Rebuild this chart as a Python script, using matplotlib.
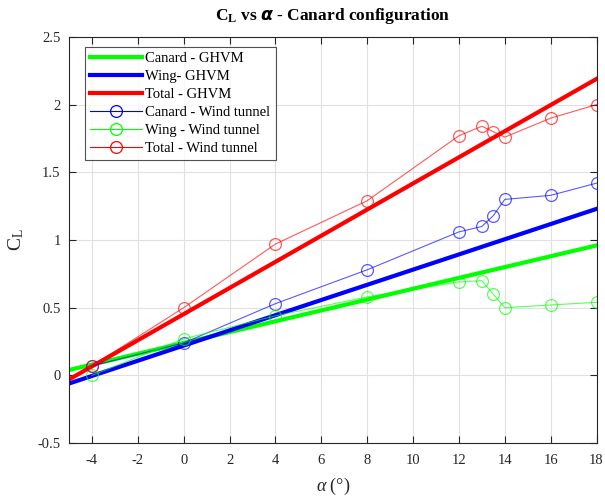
import matplotlib
matplotlib.use("Agg")
import matplotlib.pyplot as plt

plt.rcParams['font.family'] = ['Liberation Serif', 'DejaVu Serif']
plt.rcParams['mathtext.fontset'] = 'custom'
plt.rcParams['mathtext.rm'] = 'Liberation Serif'
plt.rcParams['mathtext.it'] = 'Liberation Serif:italic'
plt.rcParams['mathtext.bf'] = 'Liberation Serif:bold'

# GHVM predictions (linear)
alpha_ghvm = [-5, 18]
canard_ghvm = [0.04, 0.96]
wing_ghvm = [-0.06, 1.23]
total_ghvm = [-0.03, 2.19]

# Wind tunnel data
alpha_wt = [-4, 0, 4, 8, 12, 13, 13.5, 14, 16, 18]
canard_wt = [0.07, 0.24, 0.53, 0.78, 1.06, 1.10, 1.18, 1.30, 1.33, 1.42]
wing_wt = [0.00, 0.27, 0.44, 0.58, 0.69, 0.70, 0.60, 0.50, 0.52, 0.54]
total_wt = [0.07, 0.50, 0.97, 1.29, 1.77, 1.84, 1.80, 1.76, 1.90, 2.00]

xticks = [-4, -2, 0, 2, 4, 6, 8, 10, 12, 14, 16, 18]
yticks = [-0.5, 0, 0.5, 1, 1.5, 2, 2.5]

fig = plt.figure(figsize=(6.05, 4.99), dpi=100)
ax = fig.add_axes([0.114, 0.112, 0.872, 0.814])

ax.plot(alpha_ghvm, canard_ghvm, color='#00ff00', lw=3, label='Canard - GHVM')
ax.plot(alpha_ghvm, wing_ghvm, color='#0000ff', lw=3, label='Wing- GHVM')
ax.plot(alpha_ghvm, total_ghvm, color='#ff0000', lw=3, label='Total - GHVM')
mk = dict(marker='o', markersize=8.5, markerfacecolor='none', lw=0.8, markeredgewidth=0.9)
ax.plot(alpha_wt, canard_wt, color='#0000ff', alpha=0.65, label='Canard - Wind tunnel', **mk)
ax.plot(alpha_wt, wing_wt, color='#00ff00', alpha=0.65, label='Wing - Wind tunnel', **mk)
ax.plot(alpha_wt, total_wt, color='#ff0000', alpha=0.65, label='Total - Wind tunnel', **mk)

ax.set_xlim(-5, 18)
ax.set_ylim(-0.5, 2.5)
ax.set_xticks(xticks)
ax.set_xticklabels([str(t) for t in xticks])
ax.set_yticks(yticks)
ax.set_yticklabels(['-0.5', '0', '0.5', '1', '1.5', '2', '2.5'])
ax.grid(True, color='#e0e0e0', lw=0.8)
ax.set_axisbelow(True)
ax.tick_params(direction='in', top=True, right=True, labelsize=10.5, colors='#262626', length=5)
ax.tick_params(axis='x', pad=8)
ax.tick_params(axis='y', pad=6)
for s in ax.spines.values():
    s.set_color('#262626')
    s.set_linewidth(0.8)

ax.set_title(r'$\mathbf{C_L}$ vs $\boldsymbol{\alpha}$ - Canard configuration', fontsize=12.5,
             fontweight='bold', pad=12)
ax.set_xlabel(r'$\alpha$ (°)', fontsize=13, color='#262626', labelpad=6)
ax.set_ylabel(r'$\mathrm{C_L}$', fontsize=14, color='#262626', labelpad=8)

leg = ax.legend(loc='upper left', bbox_to_anchor=(0.03, 0.975), fontsize=10.5,
                frameon=True, fancybox=False, edgecolor='#262626', handlelength=3.6,
                borderpad=0.35, labelspacing=0.32, handletextpad=0.2, borderaxespad=0.0)
leg.get_frame().set_linewidth(0.8)
for lh in leg.get_lines():
    lh.set_alpha(None)

fig.savefig('out.png', dpi=100)
